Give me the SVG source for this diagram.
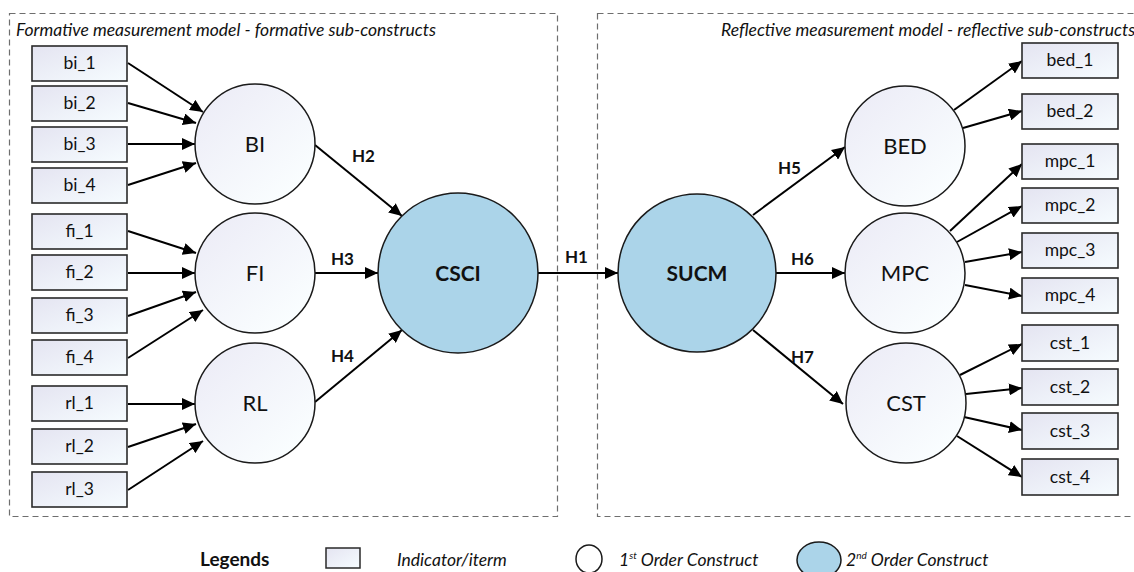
<svg xmlns="http://www.w3.org/2000/svg" width="1134" height="572" viewBox="0 0 1134 572">
  <defs>
    <linearGradient id="boxFill" x1="0" y1="0" x2="1" y2="1">
      <stop offset="0" stop-color="#e4e4f1"/>
      <stop offset="1" stop-color="#f6fcff"/>
    </linearGradient>
    <linearGradient id="circFill" x1="0.15" y1="0.1" x2="0.85" y2="0.9">
      <stop offset="0" stop-color="#ededf7"/>
      <stop offset="1" stop-color="#fafeff"/>
    </linearGradient>
    <marker id="arrow" markerUnits="userSpaceOnUse" markerWidth="14" markerHeight="12" refX="13" refY="6" orient="auto">
      <path d="M0,0 L13,6 L0,12 z" fill="#000"/>
    </marker>
  </defs>
  <style>
    .frame { fill: none; stroke: #6e6e6e; stroke-width: 1.2; stroke-dasharray: 6 4; }
    .title { font-family: Lato, "Open Sans", sans-serif; font-style: italic; font-size: 17.5px; fill: #111; }
    .ind rect { fill: url(#boxFill); stroke: #2a2a2a; stroke-width: 1.6; }
    .ind text { font-family: Lato, "Open Sans", sans-serif; font-size: 17.5px; fill: #111; text-anchor: middle; }
    .c1 circle { fill: url(#circFill); stroke: #1a1a1a; stroke-width: 1.5; }
    .c2 circle { fill: #abd4e9; stroke: #1a1a1a; stroke-width: 1.5; }
    .c1 text { font-family: Lato, "Open Sans", sans-serif; font-size: 22px; fill: #111; text-anchor: middle; }
    .c2 text { font-family: Lato, "Open Sans", sans-serif; font-size: 21px; font-weight: bold; fill: #111; text-anchor: middle; }
    .conn line { stroke: #000; stroke-width: 2; marker-end: url(#arrow); }
    .hl { font-family: Lato, "Open Sans", sans-serif; font-size: 17px; font-weight: bold; fill: #111; }
    .leg { font-family: Lato, "Open Sans", sans-serif; font-size: 17.5px; font-style: italic; fill: #111; }
    .legh { font-family: Lato, "Open Sans", sans-serif; font-size: 19px; font-weight: bold; fill: #111; }
  </style>

  <!-- measurement model frames -->
  <g id="frame-formative">
    <rect class="frame" x="9.5" y="13.5" width="548" height="503"/>
    <text class="title" x="16" y="36">Formative measurement model - formative sub-constructs</text>
  </g>
  <g id="frame-reflective">
    <rect class="frame" x="597.5" y="13.5" width="560" height="503"/>
    <text class="title" x="721" y="36">Reflective measurement model - reflective sub-constructs</text>
  </g>

  <!-- connectors -->
  <g id="connectors" class="conn">
    <line x1="128" y1="63" x2="203" y2="112"/>
    <line x1="128" y1="103" x2="196" y2="123"/>
    <line x1="128" y1="144" x2="195" y2="144"/>
    <line x1="128" y1="185" x2="196" y2="163"/>
    <line x1="128" y1="231" x2="196" y2="253"/>
    <line x1="128" y1="273" x2="195" y2="273"/>
    <line x1="128" y1="316" x2="196" y2="292"/>
    <line x1="128" y1="358" x2="203" y2="310"/>
    <line x1="128" y1="404" x2="195" y2="404"/>
    <line x1="128" y1="447" x2="196" y2="424"/>
    <line x1="128" y1="490" x2="203" y2="441"/>
    <line x1="315" y1="145" x2="402" y2="216"/>
    <line x1="315" y1="273" x2="378" y2="273"/>
    <line x1="315" y1="402" x2="402" y2="330"/>
    <line x1="538" y1="273" x2="618" y2="273"/>
    <line x1="753" y1="215" x2="845" y2="147"/>
    <line x1="776" y1="273" x2="845" y2="273"/>
    <line x1="753" y1="330" x2="843" y2="404"/>
    <line x1="954" y1="110" x2="1022" y2="61"/>
    <line x1="963" y1="128" x2="1022" y2="111"/>
    <line x1="950" y1="231" x2="1022" y2="164"/>
    <line x1="957" y1="242" x2="1022" y2="206"/>
    <line x1="965" y1="262" x2="1022" y2="252"/>
    <line x1="965" y1="285" x2="1022" y2="296"/>
    <line x1="960" y1="375" x2="1022" y2="344"/>
    <line x1="966" y1="394" x2="1022" y2="388"/>
    <line x1="964" y1="417" x2="1022" y2="430"/>
    <line x1="957" y1="436" x2="1022" y2="477"/>
  </g>

  <!-- hypothesis labels -->
  <g id="hypotheses">
    <text class="hl" x="352" y="162">H2</text>
    <text class="hl" x="331" y="265">H3</text>
    <text class="hl" x="331" y="362">H4</text>
    <text class="hl" x="565" y="263">H1</text>
    <text class="hl" x="778" y="174">H5</text>
    <text class="hl" x="791" y="265">H6</text>
    <text class="hl" x="791" y="363">H7</text>
  </g>

  <!-- formative indicators -->
  <g id="bi_1" class="ind"><rect x="32" y="46" width="95" height="35"/><text x="79.5" y="69">bi_1</text></g>
  <g id="bi_2" class="ind"><rect x="32" y="86" width="95" height="35"/><text x="79.5" y="109">bi_2</text></g>
  <g id="bi_3" class="ind"><rect x="32" y="127" width="95" height="35"/><text x="79.5" y="150">bi_3</text></g>
  <g id="bi_4" class="ind"><rect x="32" y="168" width="95" height="35"/><text x="79.5" y="191">bi_4</text></g>
  <g id="fi_1" class="ind"><rect x="32" y="214" width="95" height="35"/><text x="79.5" y="237">fi_1</text></g>
  <g id="fi_2" class="ind"><rect x="32" y="255" width="95" height="35"/><text x="79.5" y="278">fi_2</text></g>
  <g id="fi_3" class="ind"><rect x="32" y="298" width="95" height="35"/><text x="79.5" y="321">fi_3</text></g>
  <g id="fi_4" class="ind"><rect x="32" y="340" width="95" height="35"/><text x="79.5" y="363">fi_4</text></g>
  <g id="rl_1" class="ind"><rect x="32" y="386" width="95" height="35"/><text x="79.5" y="409">rl_1</text></g>
  <g id="rl_2" class="ind"><rect x="32" y="429" width="95" height="35"/><text x="79.5" y="452">rl_2</text></g>
  <g id="rl_3" class="ind"><rect x="32" y="472" width="95" height="35"/><text x="79.5" y="495">rl_3</text></g>

  <!-- first-order constructs -->
  <g id="BI" class="c1"><circle cx="255" cy="144" r="60"/><text x="255" y="152">BI</text></g>
  <g id="FI" class="c1"><circle cx="255" cy="273" r="60"/><text x="255" y="281">FI</text></g>
  <g id="RL" class="c1"><circle cx="255" cy="403" r="60"/><text x="255" y="411">RL</text></g>
  <g id="BED" class="c1"><circle cx="905" cy="146" r="60"/><text x="905" y="154">BED</text></g>
  <g id="MPC" class="c1"><circle cx="905" cy="273" r="60"/><text x="905" y="281">MPC</text></g>
  <g id="CST" class="c1"><circle cx="906" cy="403" r="60"/><text x="906" y="411">CST</text></g>

  <!-- second-order constructs -->
  <g id="CSCI" class="c2"><circle cx="458" cy="273" r="80"/><text x="458" y="281">CSCI</text></g>
  <g id="SUCM" class="c2"><circle cx="697" cy="273" r="79"/><text x="697" y="281">SUCM</text></g>

  <!-- reflective indicators -->
  <g id="bed_1" class="ind"><rect x="1022" y="43" width="96" height="35"/><text x="1070" y="66">bed_1</text></g>
  <g id="bed_2" class="ind"><rect x="1022" y="94" width="96" height="35"/><text x="1070" y="117">bed_2</text></g>
  <g id="mpc_1" class="ind"><rect x="1022" y="144" width="96" height="35"/><text x="1070" y="167">mpc_1</text></g>
  <g id="mpc_2" class="ind"><rect x="1022" y="188" width="96" height="35"/><text x="1070" y="211">mpc_2</text></g>
  <g id="mpc_3" class="ind"><rect x="1022" y="233" width="96" height="35"/><text x="1070" y="256">mpc_3</text></g>
  <g id="mpc_4" class="ind"><rect x="1022" y="278" width="96" height="35"/><text x="1070" y="301">mpc_4</text></g>
  <g id="cst_1" class="ind"><rect x="1022" y="325" width="96" height="36"/><text x="1070" y="349">cst_1</text></g>
  <g id="cst_2" class="ind"><rect x="1022" y="369" width="96" height="36"/><text x="1070" y="393">cst_2</text></g>
  <g id="cst_3" class="ind"><rect x="1022" y="413" width="96" height="36"/><text x="1070" y="437">cst_3</text></g>
  <g id="cst_4" class="ind"><rect x="1022" y="459" width="96" height="36"/><text x="1070" y="483">cst_4</text></g>

  <!-- legend -->
  <g id="legend">
    <text class="legh" x="200" y="566">Legends</text>
    <rect x="326" y="548" width="34" height="20" fill="url(#boxFill)" stroke="#2a2a2a" stroke-width="1.5"/>
    <text class="leg" x="397" y="566">Indicator/iterm</text>
    <ellipse cx="589" cy="559" rx="13" ry="14" fill="#fff" stroke="#1a1a1a" stroke-width="1.5"/>
    <text class="leg" x="619" y="566">1<tspan font-size="10" dy="-7">st</tspan><tspan dy="7"> Order Construct</tspan></text>
    <ellipse cx="819" cy="560" rx="22" ry="18" fill="#abd4e9" stroke="#1a1a1a" stroke-width="1.5"/>
    <text class="leg" x="846" y="566">2<tspan font-size="10" dy="-7">nd</tspan><tspan dy="7"> Order Construct</tspan></text>
  </g>
</svg>
